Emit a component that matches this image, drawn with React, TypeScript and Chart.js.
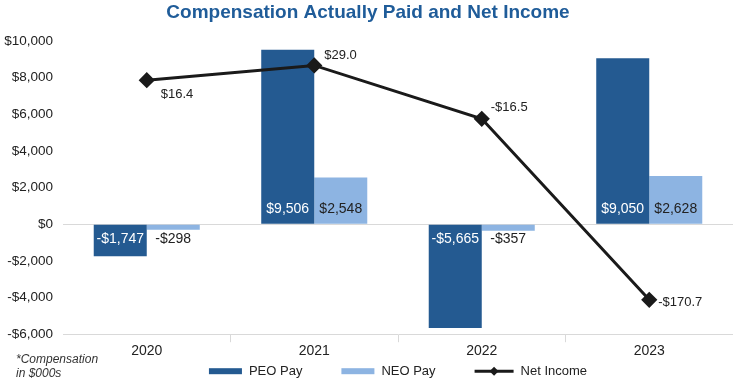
import React, { useEffect, useRef } from "react";
import { Chart, registerables } from "chart.js";

Chart.register(...registerables);

const categories = ["2020", "2021", "2022", "2023"];
const peoPay = [-1747, 9506, -5665, 9050];
const neoPay = [-298, 2548, -357, 2628];
const netIncome = [16.4, 29.0, -16.5, -170.7];
const seriesNames = ["PEO Pay", "NEO Pay", "Net Income"];
const noteLines = ["*Compensation", "in $000s"];

const PEO_COLOR = "#245a91";
const NEO_COLOR = "#8db4e2";
const LINE_COLOR = "#1a1a1a";
const TEXT_COLOR = "#222222";
const GRID_COLOR = "#d9d9d9";
const FONT = '"Liberation Sans", Arial, sans-serif';

// label offsets (px) relative to each Net Income point: [dx, dy]
const lineLabelOffsets = [
  [14, 14],
  [10, -10],
  [9, -11],
  [9, 3],
];

function fmtMoney(v: number) {
  const s = "$" + Math.abs(v).toLocaleString("en-US");
  return v < 0 ? "-" + s : s;
}
function fmtIncome(v: number) {
  const s = "$" + Math.abs(v).toFixed(1);
  return v < 0 ? "-" + s : s;
}

const valueLabels = {
  id: "valueLabels",
  afterDatasetsDraw(chart: any) {
    const ctx = chart.ctx;
    ctx.save();
    chart.data.datasets.forEach((ds: any, di: number) => {
      const meta = chart.getDatasetMeta(di);
      if (meta.hidden) return;
      if (meta.type === "bar") {
        meta.data.forEach((el: any, i: number) => {
          const v = ds.data[i] as number;
          const p = el.getProps(["x", "base"], true);
          const y = v >= 0 ? p.base - 15 : p.base + 14;
          ctx.fillStyle = ds.label === seriesNames[0] ? "#ffffff" : TEXT_COLOR;
          ctx.font = "14px " + FONT;
          ctx.textAlign = "center";
          ctx.textBaseline = "middle";
          ctx.fillText(fmtMoney(v), p.x, y);
        });
      } else {
        meta.data.forEach((el: any, i: number) => {
          const v = ds.data[i] as number;
          const p = el.getProps(["x", "y"], true);
          const off = lineLabelOffsets[i];
          ctx.fillStyle = TEXT_COLOR;
          ctx.font = "13px " + FONT;
          ctx.textAlign = "left";
          ctx.textBaseline = "middle";
          ctx.fillText(fmtIncome(v), p.x + off[0], p.y + off[1]);
        });
      }
    });
    ctx.restore();
  },
};

const customLegend = {
  id: "customLegend",
  afterDraw(chart: any) {
    const ctx = chart.ctx;
    const area = chart.chartArea;
    ctx.save();
    ctx.font = "13px " + FONT;
    ctx.textBaseline = "middle";
    ctx.textAlign = "left";
    const items = chart.data.datasets.map((ds: any) => ({
      label: ds.label as string,
      isLine: ds.type === "line",
      color: ds.type === "line" ? ds.borderColor : ds.backgroundColor,
    }));
    const markW = (it: any) => (it.isLine ? 39 : 33);
    const gapText = 7;
    const gapItem = 39;
    let total = 0;
    items.forEach((it: any, i: number) => {
      total += markW(it) + gapText + ctx.measureText(it.label).width;
      if (i < items.length - 1) total += gapItem;
    });
    let x = (area.left + area.right) / 2 - total / 2;
    const y = area.bottom + 37;
    items.forEach((it: any) => {
      const w = markW(it);
      if (it.isLine) {
        ctx.strokeStyle = it.color;
        ctx.lineWidth = 3;
        ctx.beginPath();
        ctx.moveTo(x, y);
        ctx.lineTo(x + w, y);
        ctx.stroke();
        ctx.fillStyle = it.color;
        const cx = x + w / 2;
        ctx.beginPath();
        ctx.moveTo(cx, y - 4.5);
        ctx.lineTo(cx + 4.5, y);
        ctx.lineTo(cx, y + 4.5);
        ctx.lineTo(cx - 4.5, y);
        ctx.closePath();
        ctx.fill();
      } else {
        ctx.fillStyle = it.color;
        ctx.fillRect(x, y - 3, w, 6);
      }
      x += w + gapText;
      ctx.fillStyle = TEXT_COLOR;
      ctx.fillText(it.label, x, y);
      x += ctx.measureText(it.label).width + gapItem;
    });
    // note
    ctx.font = "italic 12px " + FONT;
    ctx.fillStyle = "#333333";
    ctx.fillText(noteLines[0], 16, area.bottom + 25);
    ctx.fillText(noteLines[1], 16, area.bottom + 39);
    ctx.restore();
  },
};

export default function App() {
  const ref = useRef<HTMLCanvasElement>(null);
  useEffect(() => {
    document.body.style.margin = "0";
    const canvas = ref.current;
    if (!canvas) return;
    const chart = new Chart(canvas, {
      type: "bar",
      data: {
        labels: categories,
        datasets: [
          {
            type: "bar",
            label: seriesNames[0],
            data: peoPay,
            yAxisID: "y",
            backgroundColor: PEO_COLOR,
            categoryPercentage: 0.633,
            barPercentage: 1,
            order: 1,
          },
          {
            type: "bar",
            label: seriesNames[1],
            data: neoPay,
            yAxisID: "y",
            backgroundColor: NEO_COLOR,
            categoryPercentage: 0.633,
            barPercentage: 1,
            order: 1,
          },
          {
            type: "line",
            label: seriesNames[2],
            data: netIncome,
            yAxisID: "y1",
            borderColor: LINE_COLOR,
            backgroundColor: LINE_COLOR,
            borderWidth: 3,
            pointStyle: "rectRot",
            pointRadius: 6,
            pointBackgroundColor: LINE_COLOR,
            pointBorderColor: LINE_COLOR,
            order: 0,
          } as any,
        ],
      },
      options: {
        responsive: false,
        animation: false,
        layout: { autoPadding: false, padding: { left: 3, right: 0, top: 0, bottom: 19 } },
        plugins: {
          legend: { display: false },
          tooltip: { enabled: false },
          title: {
            display: true,
            text: "Compensation Actually Paid and Net Income",
            color: "#1f5c99",
            font: { family: FONT, size: 19, weight: "bold" },
            padding: { top: 1, bottom: 17 },
          },
        },
        scales: {
          x: {
            afterFit: (s: any) => {
              s.paddingLeft = 0;
              s.paddingRight = 0;
            },
            grid: {
              offset: true,
              drawOnChartArea: false,
              drawTicks: true,
              tickLength: 8,
              color: (c: any) =>
                c.type !== "tick" || c.index === 0 ? "transparent" : GRID_COLOR,
            },
            border: { display: true, color: GRID_COLOR },
            ticks: { color: TEXT_COLOR, font: { family: FONT, size: 14 }, padding: 1 },
          },
          y: {
            position: "left",
            min: -6000,
            max: 10000,
            afterFit: (s: any) => {
              s.width = 60;
            },
            ticks: {
              stepSize: 2000,
              color: TEXT_COLOR,
              font: { family: FONT, size: 13.5 },
              padding: 10,
              callback: (v: any) => fmtMoney(Number(v)),
            },
            grid: {
              drawTicks: false,
              color: (c: any) => (c.tick && c.tick.value === 0 ? GRID_COLOR : "transparent"),
            },
            border: { display: false },
          },
          y1: {
            position: "right",
            display: false,
            min: -200,
            max: 50,
            grid: { display: false },
          },
        },
      },
      plugins: [valueLabels, customLegend],
    });
    return () => chart.destroy();
  }, []);
  return (
    <div style={{ width: 733, height: 380 }}>
      <canvas ref={ref} width={733} height={380} />
    </div>
  );
}
